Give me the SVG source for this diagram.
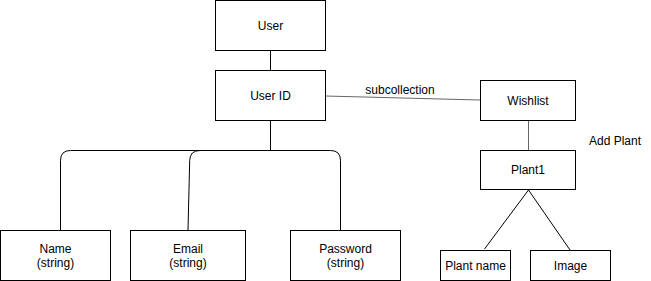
<svg xmlns="http://www.w3.org/2000/svg" width="651" height="281" viewBox="0 0 651 281">
  <style>
    .box { fill: #ffffff; stroke: #000000; stroke-width: 1; }
    .lbl { font-family: "Liberation Sans", Arial, sans-serif; font-size: 12px; fill: #000000; text-anchor: middle; dominant-baseline: central; }
    .edge { fill: none; stroke: #000000; stroke-width: 1; }
    .edge-grey { fill: none; stroke: #666666; stroke-width: 1; }
  </style>
  <rect width="651" height="281" fill="#ffffff"/>

  <g id="connectors">
    <line class="edge" x1="270.5" y1="50" x2="270.5" y2="70"/>
    <path class="edge" d="M270.5 120 V150.5 H70.5 Q60.5 150.5 60.5 160.5 V230"/>
    <path class="edge" d="M270.5 150.5 H200 Q190 150.5 189.7 160.5 L188 230"/>
    <path class="edge" d="M270.5 150.5 H330.5 Q340.5 150.5 340.5 160.5 V230"/>
    <line class="edge-grey" x1="325" y1="96" x2="480" y2="100"/>
    <line class="edge-grey" x1="528.5" y1="120" x2="528.5" y2="150"/>
    <line class="edge" x1="528.5" y1="190" x2="484.5" y2="249"/>
    <line class="edge" x1="528.5" y1="190" x2="570" y2="250"/>
    <text class="lbl" x="400" y="90">subcollection</text>
    <text class="lbl" x="615" y="141">Add Plant</text>
  </g>

  <g id="user">
    <rect class="box" x="215.5" y="0.5" width="110" height="50"/>
    <text class="lbl" x="270.5" y="25.5">User</text>
  </g>
  <g id="user-id">
    <rect class="box" x="215.5" y="70.5" width="110" height="50"/>
    <text class="lbl" x="270.5" y="95.5">User ID</text>
  </g>
  <g id="name">
    <rect class="box" x="0.5" y="230.5" width="110" height="50"/>
    <text class="lbl" x="55.5" y="249">Name</text>
    <text class="lbl" x="55.5" y="263">(string)</text>
  </g>
  <g id="email">
    <rect class="box" x="130.5" y="230.5" width="115" height="50"/>
    <text class="lbl" x="188" y="249">Email</text>
    <text class="lbl" x="188" y="263">(string)</text>
  </g>
  <g id="password">
    <rect class="box" x="290.5" y="230.5" width="110" height="50"/>
    <text class="lbl" x="345.5" y="249">Password</text>
    <text class="lbl" x="345.5" y="263">(string)</text>
  </g>
  <g id="wishlist">
    <rect class="box" x="480.5" y="80.5" width="95" height="40"/>
    <text class="lbl" x="528" y="100.5">Wishlist</text>
  </g>
  <g id="plant1">
    <rect class="box" x="480.5" y="150.5" width="95" height="39"/>
    <text class="lbl" x="528" y="170">Plant1</text>
  </g>
  <g id="plant-name">
    <rect class="box" x="440.5" y="250.5" width="70" height="30"/>
    <text class="lbl" x="475.5" y="266">Plant name</text>
  </g>
  <g id="image">
    <rect class="box" x="530.5" y="250.5" width="80" height="30"/>
    <text class="lbl" x="570.5" y="266">Image</text>
  </g>
</svg>
